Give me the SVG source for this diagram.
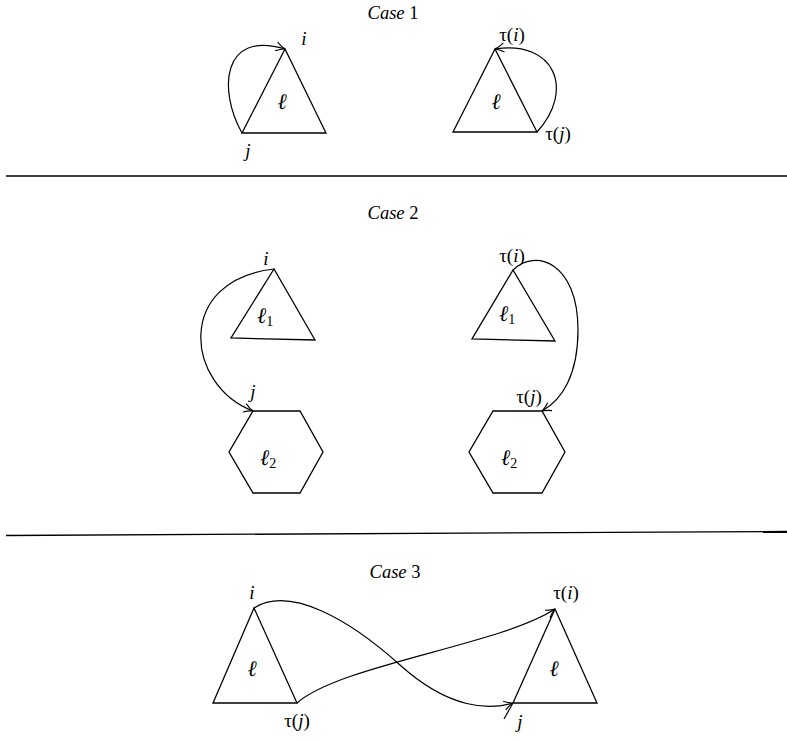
<svg xmlns="http://www.w3.org/2000/svg" width="787" height="740" viewBox="0 0 787 740">
<style>
.s{fill:none;stroke:#000;stroke-width:1.3;stroke-linejoin:miter}
.c{fill:none;stroke:#000;stroke-width:1.2}
.t{font-family:"Liberation Serif","DejaVu Serif",serif;font-size:19px;fill:#000}
.h{font-size:18.5px}
.i{font-style:italic}
.l{font-size:22px}
.sub{font-size:14px}
</style>
<defs>
<marker id="ar" viewBox="-10 -6 12 12" refX="0" refY="0" markerWidth="12" markerHeight="12" markerUnits="userSpaceOnUse" orient="auto">
<path d="M-9,-4.5 Q-4,-1 0,0 Q-4,1 -9,4.5" fill="none" stroke="#000" stroke-width="1.1"/>
</marker>
</defs>
<rect width="787" height="740" fill="#fff"/>

<g id="titles">
<text class="t h" x="393" y="19" text-anchor="middle"><tspan class="i">Case</tspan> 1</text>
<text class="t h" x="393" y="219" text-anchor="middle"><tspan class="i">Case</tspan> 2</text>
<text class="t h" x="395" y="578" text-anchor="middle"><tspan class="i">Case</tspan> 3</text>
</g>

<g id="separators">
<line class="s" x1="6" y1="176" x2="787" y2="176"/>
<line class="s" x1="6" y1="535.5" x2="787" y2="531.5"/>
</g>

<g id="case1-left">
<polygon class="s" points="285,49 242,133 326,133"/>
<text class="t i l" x="282" y="109" text-anchor="middle">ℓ</text>
<text class="t i" x="304" y="45" text-anchor="middle">i</text>
<text class="t i" x="248" y="157" text-anchor="middle">j</text>
</g>
<g id="case1-right">
<polygon class="s" points="495,49 453,132 537,132"/>
<text class="t i l" x="496" y="109" text-anchor="middle">ℓ</text>
<text class="t" x="512" y="41" text-anchor="middle">τ(<tspan class="i">i</tspan>)</text>
<text class="t" x="558" y="140" text-anchor="middle">τ(<tspan class="i">j</tspan>)</text>
</g>

<g id="case2-left">
<polygon class="s" points="274,269 231,338 315,340"/>
<text class="t i l" x="257" y="323">ℓ<tspan class="sub" font-style="normal" dy="3">1</tspan></text>
<text class="t i" x="266" y="265" text-anchor="middle">i</text>
<polygon class="s" points="253,411 300,411 323,452 300,493 253,493 229,452"/>
<text class="t i l" x="260" y="465">ℓ<tspan class="sub" font-style="normal" dy="3">2</tspan></text>
<text class="t i" x="253" y="398" text-anchor="middle">j</text>
</g>
<g id="case2-right">
<polygon class="s" points="513,270 472,339 555,341"/>
<text class="t i l" x="499" y="321">ℓ<tspan class="sub" font-style="normal" dy="3">1</tspan></text>
<text class="t" x="512" y="262" text-anchor="middle">τ(<tspan class="i">i</tspan>)</text>
<polygon class="s" points="493,411 542,411 565,452 542,493 493,493 469,452"/>
<text class="t i l" x="501" y="465">ℓ<tspan class="sub" font-style="normal" dy="3">2</tspan></text>
<text class="t" x="529" y="403" text-anchor="middle">τ(<tspan class="i">j</tspan>)</text>
</g>

<g id="case3-left">
<polygon class="s" points="254,608 213,703 297,703"/>
<text class="t i l" x="252" y="676" text-anchor="middle">ℓ</text>
<text class="t i" x="252" y="599" text-anchor="middle">i</text>
<text class="t" x="297" y="727" text-anchor="middle">τ(<tspan class="i">j</tspan>)</text>
</g>
<g id="case3-right">
<polygon class="s" points="555,609 513,703 597,703"/>
<text class="t i l" x="554" y="676" text-anchor="middle">ℓ</text>
<text class="t" x="566" y="599" text-anchor="middle">τ(<tspan class="i">i</tspan>)</text>
<text class="t i" x="520" y="728" text-anchor="middle">j</text>
</g>

<g id="connectors">
<path class="c" d="M242,133 C218,90 222,30 285,49" marker-end="url(#ar)"/>
<path class="c" d="M537,132 C575,90 555,40 495,49" marker-end="url(#ar)"/>
<path class="c" d="M274,269 C175,280 185,385 253,411" marker-end="url(#ar)"/>
<path class="c" d="M513,270 C535,248 578,262 578,330 C578,375 562,400 542,411" marker-end="url(#ar)"/>
<path class="c" d="M254,608 C290,585 350,620 400,665 C450,710 490,710 513,703" marker-end="url(#ar)"/>
<path class="c" d="M297,703 C340,665 500,645 555,609" marker-end="url(#ar)"/>
<line class="c" x1="513" y1="703" x2="504" y2="719"/>
</g>
</svg>
